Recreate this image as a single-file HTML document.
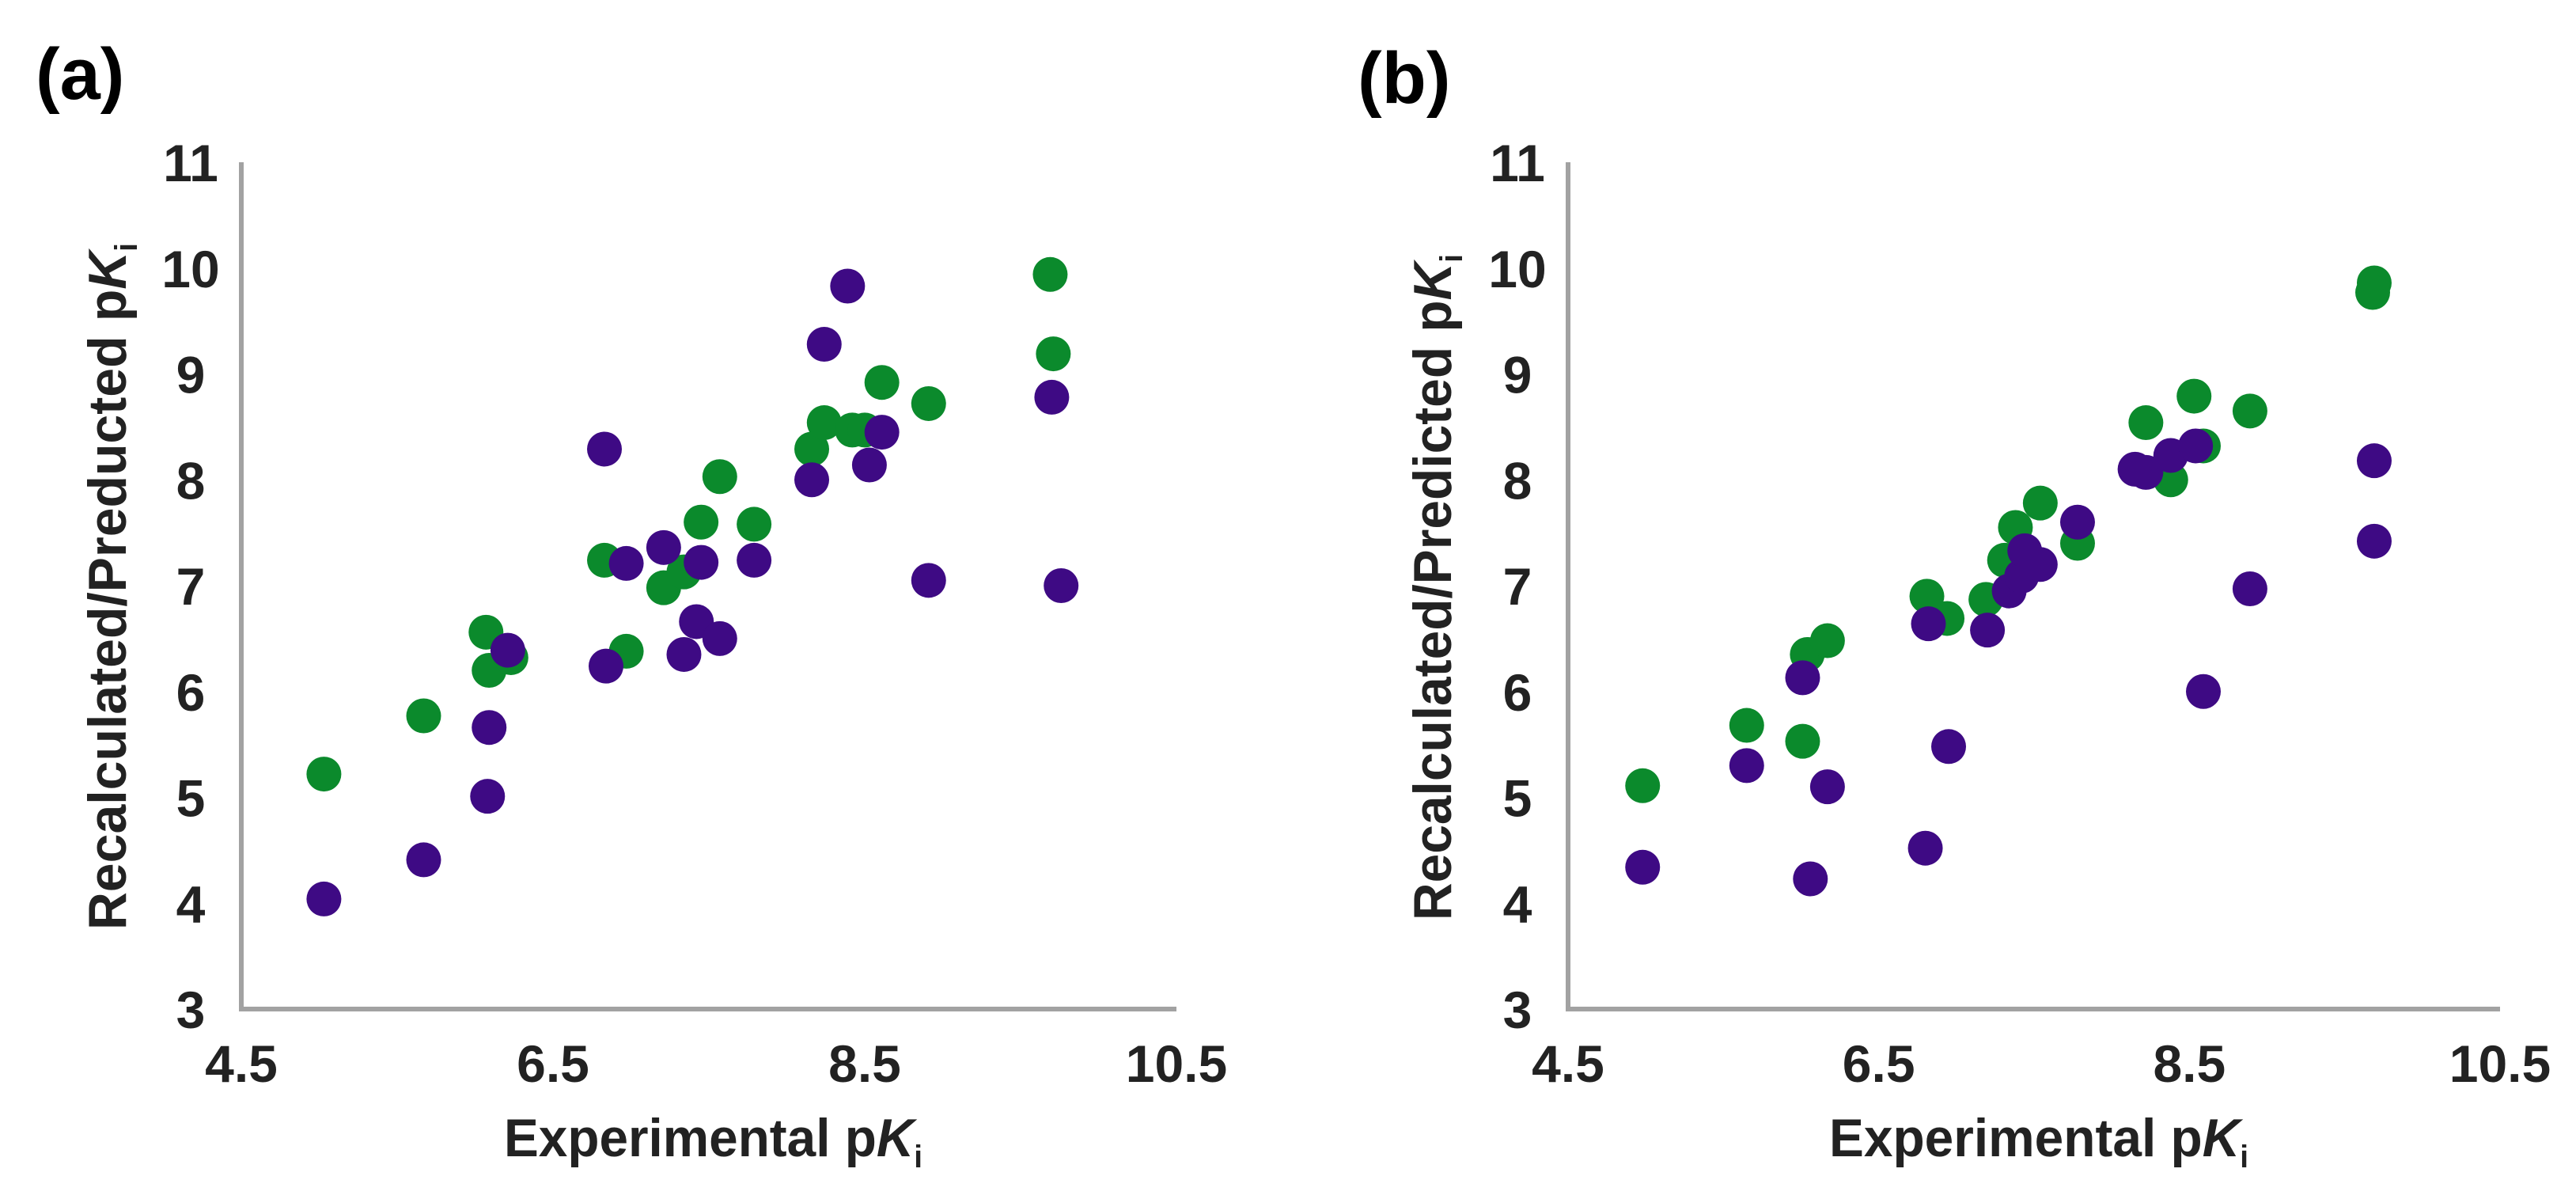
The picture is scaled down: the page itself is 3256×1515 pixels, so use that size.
<!DOCTYPE html>
<html><head><meta charset="utf-8"><style>
html,body{margin:0;padding:0;background:#fff;}
svg{display:block;font-family:"Liberation Sans",Arial,sans-serif;font-weight:bold;}
</style></head><body>
<svg id="fig" width="3256" height="1515" viewBox="0 0 3256 1515">
<text x="45" y="125" font-size="92" fill="#000">(a)</text>
<text x="1716" y="130" font-size="92" fill="#000">(b)</text>
</svg>
<script>
const xTicks=[4.5,6.5,8.5,10.5];
const yTicks=[3,4,5,6,7,8,9,10,11];
const aGreenX=[5.03,5.67,6.07,6.09,6.23,6.83,6.97,7.21,7.34,7.45,7.57,7.79,8.16,8.24,8.42,8.50,8.61,8.91,9.69,9.71];
const aGreenY=[5.22,5.77,6.56,6.20,6.32,7.24,6.38,6.98,7.13,7.60,8.03,7.58,8.29,8.54,8.47,8.47,8.92,8.72,9.94,9.19];
const aPurpleX=[5.03,5.67,6.08,6.09,6.21,6.84,6.83,6.97,7.21,7.34,7.42,7.45,7.57,7.79,8.16,8.24,8.39,8.53,8.61,8.91,9.70,9.76];
const aPurpleY=[4.04,4.41,5.01,5.66,6.39,6.24,8.29,7.21,7.36,6.35,6.66,7.22,6.50,7.24,8.00,9.28,9.83,8.14,8.45,7.05,8.78,7.00];
const bGreenX=[4.98,5.65,6.01,6.04,6.17,6.81,6.94,7.19,7.31,7.38,7.54,7.78,8.22,8.38,8.53,8.59,8.89,9.69,9.68];
const bGreenY=[5.11,5.68,5.53,6.35,6.48,6.90,6.69,6.87,7.24,7.55,7.78,7.40,8.54,8.00,8.79,8.32,8.65,9.86,9.77];
const bPurpleX=[4.98,5.65,6.01,6.06,6.17,6.80,6.82,6.95,7.20,7.34,7.42,7.44,7.54,7.78,8.15,8.22,8.38,8.54,8.59,8.89,9.69,9.69];
const bPurpleY=[4.34,5.30,6.13,4.23,5.10,4.52,6.64,5.48,6.58,6.95,7.09,7.33,7.20,7.60,8.10,8.07,8.23,8.32,6.00,6.97,8.18,7.42];

const NS="http://www.w3.org/2000/svg";
const svg=document.getElementById('fig');
function mk(tag,attrs,parent){const e=document.createElementNS(NS,tag);for(const k in attrs)e.setAttribute(k,attrs[k]);(parent||svg).appendChild(e);return e;}
function panel(id,x0,x1,ytitle,ytx,yTop,yBot,xtitleX,green,gy,purple,py){
  const y0=1275,yTopPx=205;
  const sx=v=>x0+(v-4.5)/6*(x1-x0);
  const sy=v=>y0-(v-3)/8*(y0-yTopPx);
  const g=mk('g',{});
  
  
  const ax=mk('path',{d:`M${x0} ${yTopPx} L${x0} ${y0} L${x1} ${y0}`,stroke:'#a2a2a2','stroke-width':6,fill:'none'},g);
  
  
  yTicks.forEach(t=>{const e=mk('text',{x:x0-64,y:sy(t)+24,'font-size':66,'text-anchor':'middle',fill:'#222'},g);e.textContent=t;
    
    });
  xTicks.forEach(t=>{const e=mk('text',{x:sx(t),y:1367,'font-size':66,'text-anchor':'middle',fill:'#222'},g);e.textContent=t;
    
    });
  const cy=(yTop+yBot)/2;
  const yt=mk('text',{x:0,y:0,'font-size':68,'text-anchor':'middle',fill:'#222',transform:`translate(${ytx+24},${cy}) rotate(-90)`,textLength:yBot-yTop,lengthAdjust:'spacingAndGlyphs'},g);
  yt.innerHTML=ytitle+' p<tspan font-style="italic">K</tspan><tspan font-size="40" dy="14">i</tspan>';
  
  
  const xt=mk('text',{x:xtitleX[0],y:1461,'font-size':68,fill:'#222',textLength:xtitleX[1]-xtitleX[0],lengthAdjust:'spacingAndGlyphs'},g);
  xt.innerHTML='Experimental p<tspan font-style="italic">K</tspan><tspan font-size="40" dy="14">i</tspan>';
  
  
  green.forEach((v,i)=>{const c=mk('circle',{cx:sx(v),cy:sy(gy[i]),r:22,fill:'#0b8a2c'},g);
    
    });
  purple.forEach((v,i)=>{const c=mk('circle',{cx:sx(v),cy:sy(py[i]),r:22,fill:'#3e0a84'},g);
    
    });
}
panel('panel-a',305,1487,'Recalculated/Preducted',135,307,1175,[637,1166],aGreenX,aGreenY,aPurpleX,aPurpleY);
panel('panel-b',1982,3160,'Recalculated/Predicted',1810,321,1163,[2312,2842],bGreenX,bGreenY,bPurpleX,bPurpleY);
</script>
</body></html>
